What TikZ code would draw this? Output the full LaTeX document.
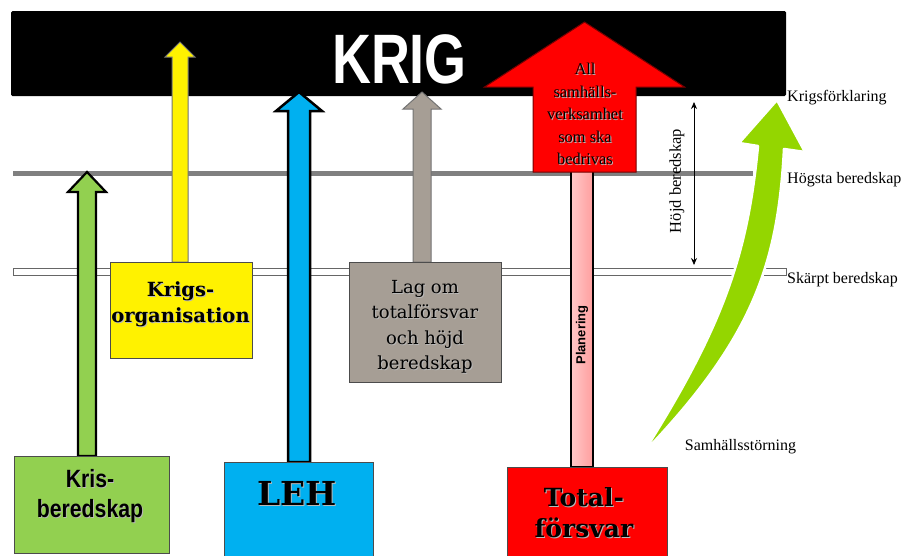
\documentclass[tikz,border=0pt]{standalone}
\usepackage{fontspec}
\usepackage{graphicx}
\usetikzlibrary{arrows.meta}
\setmainfont{Liberation Serif}
\newfontfamily\lsans{Liberation Sans}
\newfontfamily\dserif{DejaVu Serif}

\definecolor{krisgreen}{RGB}{146,208,80}
\definecolor{lehblue}{RGB}{0,176,240}
\definecolor{taupe}{RGB}{166,158,149}
\definecolor{limegreen}{RGB}{148,214,0}
\definecolor{pinkL}{RGB}{255,200,200}
\definecolor{pinkR}{RGB}{255,158,158}
\definecolor{levelgray}{RGB}{128,128,128}

% centred multi-line text
\newcommand\stack[1]{\begin{tabular}{@{}c@{}}#1\end{tabular}}
% text with a soft drop shadow
\newcommand\shadowed[1]{\leavevmode\rlap{\kern1pt\raisebox{-1pt}{\color{black!28}\stack{#1}}}\stack{#1}}
% upward block arrow: [style]{centre x}{bottom y}{half shaft}{head base y}{half head}{tip y}
\newcommand\blockarrow[7][]{%
  \path[#1] ({#2-#4},#3) -- ({#2-#4},#5) -- ({#2-#6},#5) -- (#2,#7)
    -- ({#2+#6},#5) -- ({#2+#4},#5) -- ({#2+#4},#3) -- cycle;}

\begin{document}
\begin{tikzpicture}[x=1pt,y=-1pt,
  box/.style={draw=black!70, line width=1pt, inner sep=0pt},
  lbl/.style={inner sep=0pt, font=\fontsize{16}{19}\selectfont},
  levellbl/.style={lbl, anchor=base west}]
\useasboundingbox (0,0) rectangle (904,555);

% war bar
\node[fill=black, rounded corners=1.5pt, minimum width=775pt, minimum height=85pt, inner sep=0pt]
  (bar) at (398.5,53.5) {};
\node[inner sep=0pt, text=white, font=\lsans\bfseries\fontsize{70}{80}\selectfont]
  (krig) at (399.5,59) {\scalebox{0.77}[1]{KRIG}};

% readiness levels
\draw[levelgray, line width=5pt] (13,173.5) -- (753,173.5);
\draw[fill=white, draw=black!60, line width=0.8pt] (13,268) rectangle (786,275);

% upward arrows
\blockarrow[fill=krisgreen, draw=black, line width=2.2pt]{87}{456}{9}{192}{19}{172}
\blockarrow[fill=yellow, draw=black!55, line width=1pt]{180}{262}{8}{57}{15}{42}
\blockarrow[fill=lehblue, draw=black, line width=2.5pt]{299}{462}{11}{111}{23}{92}
\blockarrow[fill=taupe, draw=black!55, line width=1pt]{422}{262}{9}{109}{19}{92}
\path[left color=pinkL, right color=pinkR, draw=black, line width=2.5pt]
  (571,170) rectangle (593,467);
\blockarrow[fill=red, draw=red!45!black, line width=1pt]{584.5}{172}{51.5}{87}{100}{22}

% source boxes
\node[box, fill=krisgreen, minimum width=155pt, minimum height=97pt] (kris) at (91.5,504.5) {};
\node[box, fill=yellow, minimum width=142pt, minimum height=96pt] (krigsorg) at (181,310) {};
\node[box, fill=taupe, minimum width=152pt, minimum height=120pt] (lag) at (425,322) {};
\node[box, fill=lehblue, minimum width=149pt, minimum height=96pt] (leh) at (298.5,510) {};
\node[box, fill=red, minimum width=160pt, minimum height=92pt] (tf) at (587,513) {};

% box texts
\node[inner sep=0pt, font=\lsans\bfseries\fontsize{25}{30}\selectfont]
  (kristext) at (90,497) {\scalebox{0.85}[1]{\shadowed{Kris-\\beredskap}}};
\node[inner sep=0pt, font=\dserif\bfseries\fontsize{19.5}{26}\selectfont]
  (krigsorgtext) at (180.5,305) {\shadowed{Krigs-\\organisation}};
\node[inner sep=0pt, font=\dserif\fontsize{18}{25.3}\selectfont]
  (lagtext) at (425,327) {\shadowed{Lag om\\totalförsvar\\och höjd\\beredskap}};
\node[inner sep=0pt, font=\dserif\bfseries\fontsize{33}{36}\selectfont]
  (lehtext) at (297,499) {\shadowed{LEH}};
\node[inner sep=0pt, font=\dserif\bfseries\fontsize{25}{31}\selectfont]
  (tftext) at (584,516) {\shadowed{Total-\\försvar}};
\node[inner sep=0pt, font=\fontsize{16.4}{22.5}\selectfont]
  (allsam) at (585,115.5) {\shadowed{All\\samhälls-\\verksamhet\\som ska\\bedrivas}};
\node[inner sep=0pt, rotate=90, font=\lsans\bfseries\fontsize{13}{15}\selectfont]
  (plan) at (582,335) {Planering};

% raised readiness span
\coordinate (hbtop) at (694,102);
\coordinate (hbbot) at (694,265);
\draw[{Stealth[length=7pt,width=6pt]}-{Stealth[length=7pt,width=6pt]}, line width=0.8pt]
  (hbtop) -- (hbbot);
\node[lbl, rotate=90, font=\fontsize{16.5}{19}\selectfont] (hojd) at (677,181) {Höjd beredskap};

% escalation arrow
\path[fill=limegreen, draw=white, line width=2.5pt, line join=round]
  (645,450) .. controls (726,322) and (748,250) .. (758,146)
  -- (739,143) -- (777,100) -- (805,152) -- (784,149)
  .. controls (778,262) and (754,336) .. (649,447) -- cycle;

% level labels
\node[levellbl] (krigsf) at (787,101) {Krigsförklaring};
\node[levellbl] (hogsta) at (787,183) {Högsta beredskap};
\node[levellbl] (skarpt) at (787,283) {Skärpt beredskap};
\node[lbl, anchor=base] (samh) at (740.5,450) {Samhällsstörning};
\end{tikzpicture}
\end{document}
